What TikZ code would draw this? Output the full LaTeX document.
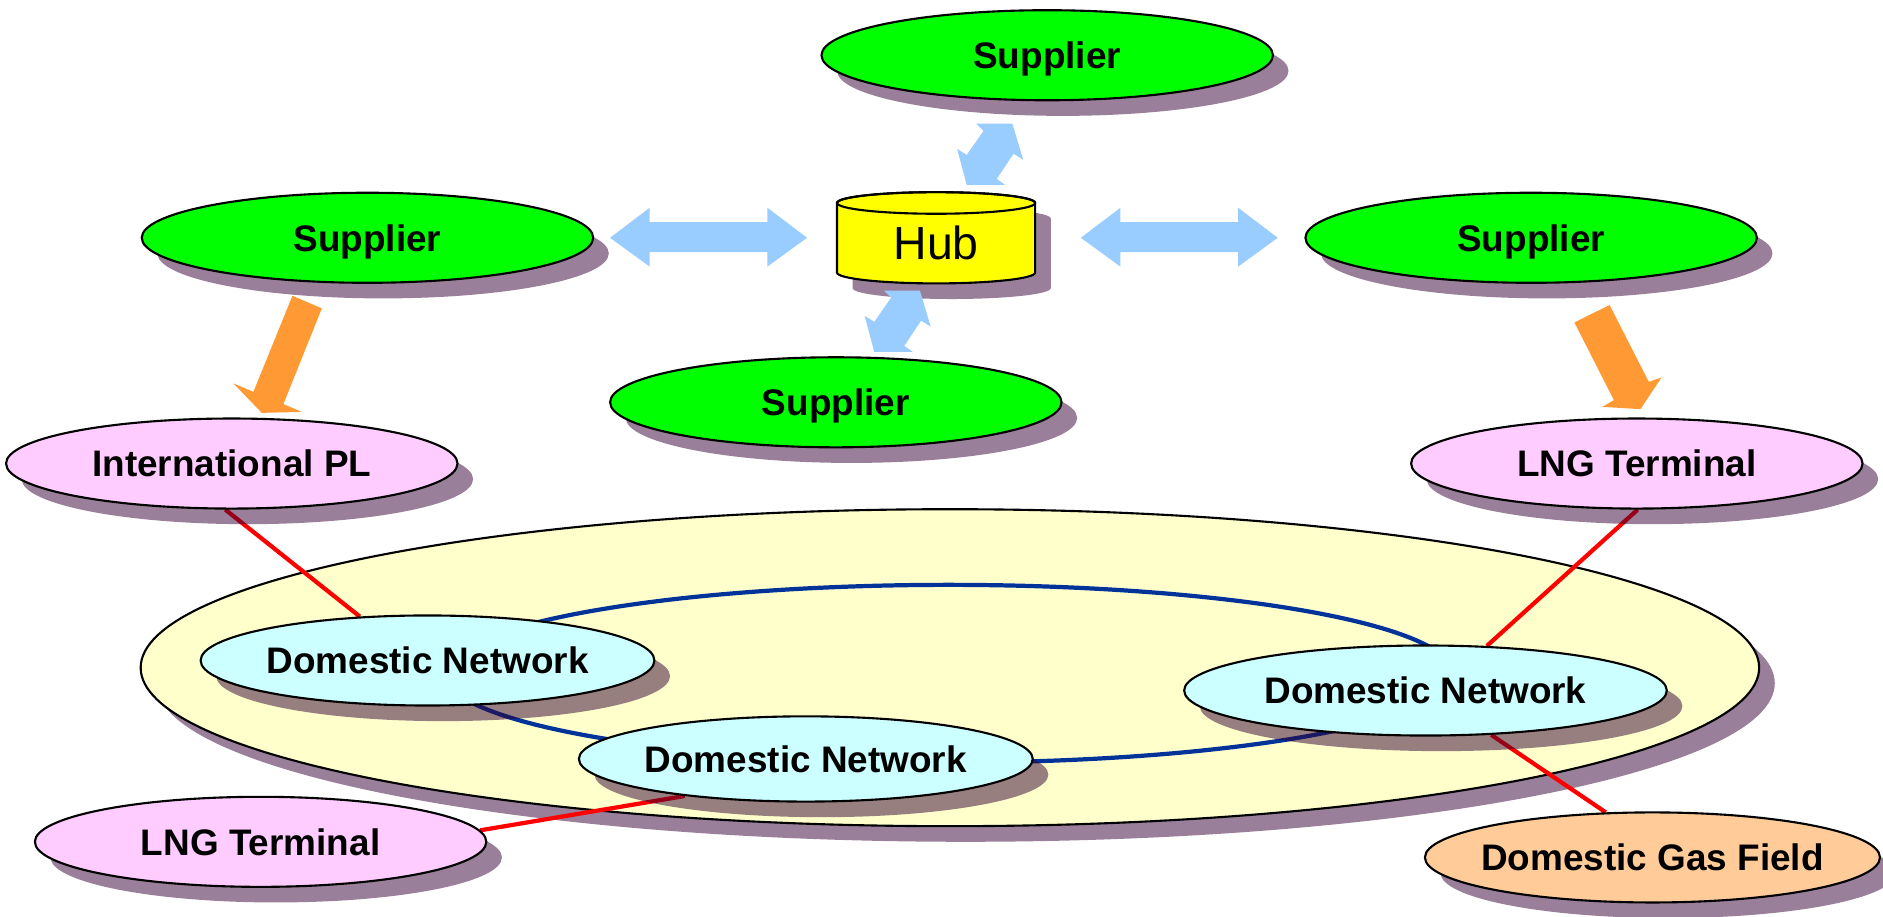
\documentclass[tikz,border=0pt]{standalone}
\usepackage{fontspec}
\setmainfont{Liberation Sans}
\usetikzlibrary{shapes,shadows}
\definecolor{supgreen}{HTML}{00FF00}
\definecolor{entrypink}{HTML}{FFCCFF}
\definecolor{netcyan}{HTML}{CCFFFF}
\definecolor{fieldorange}{HTML}{FFCC99}
\definecolor{regionyellow}{HTML}{FFFFCC}
\definecolor{hubyellow}{HTML}{FFFF00}
\definecolor{arrowblue}{HTML}{99CCFF}
\definecolor{feedorange}{HTML}{FF9933}
\definecolor{pipered}{HTML}{FF0000}
\definecolor{ringblue}{HTML}{003399}
\definecolor{shadowpurple}{HTML}{330033}
\pgfdeclarelayer{background}
\pgfdeclarelayer{lines}
\pgfsetlayers{background,lines,main}

\begin{document}
\begin{tikzpicture}[
            x=0.02cm,y=-0.02cm,
            dropped/.style={drop shadow={shadow xshift=.26cm,shadow yshift=-.26cm,fill=shadowpurple,opacity=.5}},
            party/.style={draw,ellipse,line width=1pt,dropped,minimum width=7.52cm,minimum height=1.5cm,inner xsep=-.3cm,inner ysep=0pt,text depth=0pt,font=\fontsize{17.5}{21}\selectfont\bfseries},
            supplier/.style={party,fill=supgreen},
            entry/.style={party,fill=entrypink},
            network/.style={party,fill=netcyan,minimum width=7.56cm},
            gasfield/.style={party,fill=fieldorange,minimum width=7.58cm},
            hubarrow/.style={fill=arrowblue},
            feed/.style={fill=feedorange},
            pipe/.style={draw=pipered,line width=2pt},
            ring/.style={draw=ringblue,line width=2pt}
          ]
          \useasboundingbox (0,0) rectangle (1568,763);

          %domestic market
          \begin{pgfonlayer}{background}
          \node[party,fill=regionyellow,minimum width=26.96cm,minimum height=5.28cm] (region) at (791,556) {};
          \end{pgfonlayer}

          %suppliers
          \node[supplier] (supN) at (872,46) {Supplier};
          \node[supplier] (supW) at (306,198) {Supplier};
          \node[supplier] (supE) at (1275,198) {Supplier};
          \node[supplier] (supS) at (696,335) {Supplier};

          %hub
          \fill[shadowpurple,opacity=.5] (710,182) -- (710,240) arc[start angle=180,end angle=360,x radius=1.65cm,y radius=.18cm] -- (875,182) arc[start angle=0,end angle=180,x radius=1.65cm,y radius=.18cm] -- cycle;
          \draw[fill=hubyellow,line width=1pt] (697,169) -- (697,227) arc[start angle=180,end angle=360,x radius=1.65cm,y radius=.18cm] -- (862,169) arc[start angle=0,end angle=180,x radius=1.65cm,y radius=.18cm] -- cycle;
          \draw[line width=1pt] (779.5,169) ellipse [x radius=1.65cm,y radius=.18cm];
          \node[font=\fontsize{22}{26}\selectfont] (hub) at (779.5,202) {Hub};

          %trading arrows
          \fill[hubarrow] (508,198) -- (541,173) -- (541,185) -- (639,185) -- (639,173) -- (672,198) -- (639,222) -- (639,210) -- (541,210) -- (541,222) -- cycle;
          \fill[hubarrow] (900,198) -- (933,173) -- (933,185) -- (1031,185) -- (1031,173) -- (1064,198) -- (1031,222) -- (1031,210) -- (933,210) -- (933,222) -- cycle;
          \foreach \dx/\dy in {0/0,-77/139}
            \fill[hubarrow,shift={(\dx,\dy)}] (813,103) -- (843,103) -- (852,133) -- (844,128) -- (830,149) -- (837,154) -- (805,154) -- (797,124) -- (805,129) -- (819,109) -- cycle;

          %entry points
          \node[entry] (intl) at (193,386) {International PL};
          \node[entry] (lngE) at (1363,386) {LNG Terminal};
          \node[entry] (lngW) at (217,701) {LNG Terminal};

          %supply arrows
          \fill[feed] (243.5,246.3) -- (268,256.8) -- (236,336.5) -- (251.3,343) -- (218,343.8) -- (194.4,319.3) -- (211,326.3) -- cycle;
          \fill[feed] (1311,268.5) -- (1340.3,254) -- (1373,318) -- (1383.6,314.3) -- (1366,340.7) -- (1334.2,338.8) -- (1343.9,333.2) -- cycle;

          %domestic networks
          \node[network] (dnW) at (356,550) {Domestic Network};
          \node[network,minimum height=1.42cm] (dnS) at (671,632) {Domestic Network};
          \node[network,minimum width=8.04cm] (dnE) at (1187,575) {Domestic Network};
          \node[gasfield] (gas) at (1376,714) {Domestic Gas Field};

          %links
          \begin{pgfonlayer}{lines}
          \draw[ring] (790,561) ellipse [x radius=8.4cm,y radius=1.48cm];
          \path[pipe]
          (intl.262) -- (dnW.147)
          (lngE.271) -- (dnE.36)
          (lngW.3) -- (dnS.197)
          (dnE.326) -- (gas.136)
          ;
          \end{pgfonlayer}

      \end{tikzpicture}
\end{document}
